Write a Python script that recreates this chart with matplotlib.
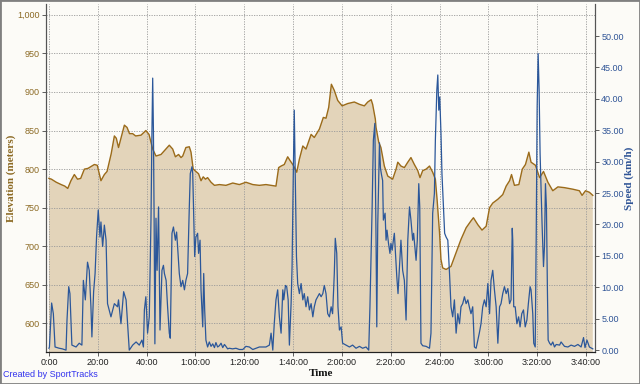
import matplotlib
matplotlib.use("Agg")
import matplotlib.pyplot as plt
from matplotlib.ticker import FuncFormatter, MultipleLocator
from matplotlib.patches import Rectangle

# elevation profile (time in minutes, metres)
elev_t = [0, 1, 3, 5, 6.5, 7.7, 9, 10.4, 11.7, 13, 14.5, 16, 18.6, 19.8, 21.3, 22.7, 23.8,
          25.5, 26.8, 27.6, 28.5, 29.5, 30.9, 32, 33, 34.3, 35.5, 37.7, 39.7, 41, 42.5,
          43.85, 45.9, 47.3, 49.3, 50.7, 51.8, 53.1, 54.1, 54.8, 56.1, 57.5, 58.2, 59.1,
          60.2, 61.3, 62.3, 63.2, 64.1, 65.0, 66.4, 67.8, 69.8, 72.5, 75.3, 78.0, 80.7,
          83.5, 86.2, 88.9, 93.0, 94.1, 95.1, 96.4, 97.8, 98.8, 100.1, 101.5, 102.6, 104.0,
          105.3, 107.4, 108.7, 110.8, 112.4, 113.5, 114.6, 115.7, 116.9, 118.3, 120.1,
          122.4, 125.1, 127.2, 129.2, 130.6, 132.0, 132.6, 133.7, 134.0, 135.1, 136.0,
          137.4, 138.8, 140.8, 142.2, 142.9, 144.2, 145.6, 147.0, 148.3, 149.7, 151.1,
          152.0, 153.1, 154.5, 155.9, 157.2, 158.3, 159.0, 160.0, 160.6, 161.3, 162.7,
          164.7, 166.8, 168.8, 170.9, 172.9, 173.9, 175.7, 177.4, 179.1, 180.5, 181.8,
          183.9, 185.9, 187.3, 188.7, 189.5, 190.7, 192.5, 193.9, 195.2, 196.6, 197.5,
          199.3, 201.0, 202.6, 204.4, 206.4, 208.5, 211.2, 214.6, 217.3, 218.4, 219.8,
          221.4, 222.8]
elev_v = [788, 787, 783, 780, 778, 775, 785, 793, 787, 788, 800, 801, 806, 805, 785, 793, 797,
          820, 843, 840, 828, 840, 857, 854, 846, 846, 843, 844, 850, 845, 826,
          817, 819, 824, 831, 826, 816, 819, 815, 817, 828, 829, 822, 800,
          797, 794, 785, 790, 787, 789, 783, 779, 780, 779, 782, 780, 783,
          780, 779, 780, 778, 802, 804, 806, 816, 811, 805, 796, 813, 830,
          826, 845, 841, 852, 867, 866, 880, 910, 902, 889, 882,
          885, 887, 884, 882, 887, 890, 884, 865, 854, 835, 828,
          804, 791, 787, 800, 809, 804, 802, 809, 815, 806, 798,
          789, 798, 800, 804, 796, 787, 761, 718, 683, 672, 670,
          674, 692, 709, 724, 733, 737, 728, 721, 726, 750, 756,
          761, 767, 778, 785, 793, 779, 780, 800, 806, 822, 809,
          805, 789, 797, 783, 772, 777, 776, 774, 772, 766, 772,
          770, 766]

# speed (time in minutes, km/h)
speed_t = [0, 0.2, 1.1, 1.8, 2.5, 4.2, 5.5, 7.0, 7.4, 8.1, 8.6, 9.4, 11.1, 12.4, 13.5, 14.1,
           14.9, 15.8, 16.5, 17.2, 17.6, 18.3, 18.9, 19.5, 20.2, 20.9, 21.3, 22.0, 22.7, 23.4,
           24.0, 25.4, 26.8, 28.1, 28.5, 29.5, 30.6, 31.6, 32.2, 32.9, 34.3, 35.7, 37.0, 38.1,
           38.7, 39.1, 39.7, 40.4, 41.1, 41.8, 42.2, 42.5, 42.8, 43.1, 43.4, 43.85, 44.3, 44.9,
           45.5, 46.3, 46.9, 47.3, 48.0, 48.6, 49.3, 49.7, 50.4, 51.0, 51.8, 52.3, 52.7, 53.4,
           54.1, 54.8, 55.5, 56.1, 56.8, 57.5, 57.9, 58.6, 58.9, 59.3, 59.7, 60.2, 60.9, 61.3,
           61.9, 62.3, 63.0, 63.4, 63.8, 64.3, 65.0, 65.7, 66.4, 67.1, 67.8, 68.4, 69.1, 69.8,
           70.5, 71.2, 71.9, 72.5, 73.2, 73.9, 75.2, 76.6, 78.0, 79.4, 80.7, 82.1, 83.5, 84.8,
           86.2, 87.6, 88.9, 90.3, 91.0, 91.7, 92.3, 93.0, 93.7, 94.4, 95.1, 95.8, 96.2, 96.9,
           97.4, 98.0, 98.5, 99.2, 99.6, 100.1, 100.5, 100.9, 101.4, 101.9, 102.6, 103.3, 104.0,
           104.6, 105.3, 106.0, 106.7, 107.4, 108.1, 108.7, 109.4, 110.1, 110.8, 111.5, 112.2,
           112.8, 113.5, 114.2, 114.9, 115.6, 116.2, 116.9, 117.3, 117.9, 118.4, 119.0, 119.7,
           120.3, 121.7, 123.1, 124.4, 125.8, 127.2, 128.5, 129.9, 131.0, 131.5, 132.4, 132.9,
           133.5, 134.0, 134.3, 134.7, 135.4, 135.8, 136.2, 136.7, 137.0, 137.7, 138.1, 138.5,
           139.1, 139.7, 140.1, 140.6, 141.1, 141.5, 141.9, 142.5, 143.0, 143.6, 144.2, 144.9,
           145.6, 146.3, 147.0, 147.7, 148.3, 149.0, 149.4, 150.0, 150.4, 150.9, 151.5, 151.9,
           152.4, 153.1, 154.5, 155.9, 156.5, 157.2, 157.9, 158.3, 158.9, 159.3, 159.7, 160.1,
           160.6, 161.0, 161.6, 162.1, 162.7, 163.4, 164.1, 164.7, 165.4, 166.1, 166.8, 167.5,
           168.2, 168.8, 169.5, 170.2, 170.9, 171.6, 172.2, 172.9, 173.6, 174.3, 175.0, 175.7,
           176.3, 177.0, 177.7, 178.4, 179.1, 179.8, 180.5, 181.1, 181.8, 182.5, 183.2, 183.9,
           184.6, 185.2, 185.9, 186.6, 187.3, 188.0, 188.7, 189.3, 189.8, 190.0, 190.4, 191.0,
           191.7, 192.4, 193.0, 193.7, 194.4, 195.1, 195.8, 196.4, 197.1, 197.5, 198.2, 198.6,
           199.2, 199.6, 200.0, 200.4, 200.8, 201.2, 201.6, 202.0, 202.6, 203.0, 203.4, 203.8,
           204.2, 204.5, 205.1, 205.7, 206.4, 207.1, 207.8, 209.2, 209.8, 211.2, 212.6, 213.9,
           215.3, 216.7, 218.0, 219.0, 219.6, 220.4, 221.4, 222.8]
speed_v = [0.3, 0.5, 7.5, 5.8, 0.5, 0.3, 0.2, 0, 4.8, 10.1, 9.0, 0.8, 0.5, 1.1, 0.8, 11.1,
           8.0, 14.0, 12.7, 6.9, 2.1, 9.3, 12.2, 18.0, 22.3, 18.0, 20.4, 16.5, 19.9, 17.5,
           7.4, 5.3, 7.4, 6.9, 8.0, 4.2, 9.3, 8.0, 4.2, 0, 0.8, 1.3, 0.8, 1.6,
           0.5, 6.4, 8.5, 2.7, 5.3, 20.7, 35.0, 43.3, 35.0, 20.0, 1.0, 21.0, 12.7, 22.8,
           3.2, 12.7, 13.5, 12.2, 11.1, 6.9, 2.7, 1.9, 18.6, 19.6, 17.5, 18.8, 16.5, 12.2,
           10.1, 11.1, 9.6, 11.1, 12.2, 22.8, 28.1, 29.2, 28.1, 21.8, 14.9, 18.0, 18.6, 15.4,
           17.5, 9.6, 3.7, 12.2, 6.4, 1.6, 0.5, 1.3, 0.6, 1.0, 0.4, 1.2, 0.5, 0.7,
           1.1, 0.4, 0.9, 0.6, 0.2, 0.3, 0.2, 0.3, 0.1, 0.1, 0.6, 0.5, 0.1, 0.3,
           0.5, 0.5, 0.5, 0.8, 2.7, 0, 4.2, 8.0, 9.6, 5.3, 2.7, 9.6, 8.0, 10.3,
           10.1, 8.0, 0.8, 7.4, 13.3, 28.1, 38.2, 28.1, 14.9, 10.6, 9.0, 10.6, 8.0,
           9.0, 6.9, 8.5, 6.4, 7.4, 5.3, 6.9, 8.0, 8.5, 9.0, 8.5, 9.0,
           10.3, 9.0, 5.8, 5.3, 6.9, 5.8, 12.2, 17.8, 15.4, 6.9, 3.2, 3.7,
           1.1, 0.8, 0.5, 0.8, 0.3, 0.6, 0.3, 0.5, 0, 6.9, 22.8, 33.4,
           36.1, 17.5, 3.7, 20.0, 33.0, 29.0, 28.0, 27.0, 20.7, 21.8, 17.5, 19.1,
           17.0, 15.4, 17.0, 15.9, 17.5, 18.6, 15.9, 11.7, 9.0, 13.3, 17.5, 12.7,
           11.1, 4.8, 17.5, 22.8, 20.7, 17.5, 18.6, 15.9, 14.3, 17.5, 26.5, 22.8,
           1.1, 0.7, 0.6, 0.3, 2.7, 21.8, 24.9, 33.4, 41.4, 43.8, 38.2, 40.3,
           34.5, 28.1, 22.8, 18.6, 18.0, 17.5, 12.2, 6.9, 5.3, 8.0, 2.7, 5.8,
           4.2, 6.9, 7.4, 8.5, 7.4, 8.0, 6.9, 5.8, 6.9, 0.5, 0.3, 1.6,
           2.7, 4.2, 6.9, 8.0, 6.9, 10.6, 5.8, 11.1, 12.7, 9.6, 6.9, 1.1,
           6.9, 7.4, 9.0, 10.1, 9.0, 9.8, 7.4, 8.0, 19.4, 17.5, 6.9, 6.9,
           4.2, 5.3, 3.7, 5.8, 6.4, 3.7, 4.8, 7.4, 10.1, 9.6, 5.8, 1.1,
           0.5, 17.5, 38.7, 47.2, 41.4, 31.3, 25.5, 20.2, 13.3, 16.5, 26.5, 22.8,
           9.6, 1.6, 1.1, 0.8, 1.3, 0.5, 0.9, 0.8, 1.3, 0.6, 0.5, 0.8,
           0.6, 0.9, 0.5, 2.0, 0.4, 1.6, 0.5, 0.2]

elev_ticks = [600, 650, 700, 750, 800, 850, 900, 950, 1000]
speed_ticks = [0, 5, 10, 15, 20, 25, 30, 35, 40, 45, 50]


def time_label(v, pos):
    m = int(round(v))
    if m < 60:
        return "%d:00" % m
    return "%d:%02d:00" % (m // 60, m % 60)


bg = "#fcfbf7"
brown = "#9b6b1a"
blue = "#2b579a"

fig = plt.figure(figsize=(6.4, 3.84), dpi=100, facecolor=bg)
ax = fig.add_axes([0.0719, 0.0833, 0.8578, 0.9063], facecolor=bg)
ax2 = ax.twinx()

ax.fill_between(elev_t, elev_v, 0, color="#e3d4ba", lw=0, zorder=1)
ax.plot(elev_t, elev_v, color=brown, lw=1.0, zorder=3)
ax2.plot(speed_t, speed_v, color=blue, lw=0.9)

ax.set_xlim(-1.2, 223.7)
ax.set_ylim(563, 1014)
ax2.set_ylim(-0.3, 55.1)

ax.xaxis.set_major_locator(MultipleLocator(20))
ax.xaxis.set_major_formatter(FuncFormatter(time_label))
ax.set_yticks(elev_ticks)
ax.yaxis.set_major_formatter(FuncFormatter(lambda v, p: "{:,}".format(int(v))))
ax2.set_yticks(speed_ticks)
ax2.yaxis.set_major_formatter(FuncFormatter(lambda v, p: "%.2f" % v))

ax.set_axisbelow(False)
ax.grid(True, color="#999999", linestyle=(0, (1.5, 1.5)), lw=0.6, zorder=2)

tick_font = dict(family="Liberation Sans", size=6.5)
for lab in ax.get_xticklabels():
    lab.set_fontproperties(tick_font)
    lab.set_color("#222222")
for lab in ax.get_yticklabels():
    lab.set_fontproperties(tick_font)
    lab.set_color("#8c6a24")
for lab in ax2.get_yticklabels():
    lab.set_fontproperties(tick_font)
    lab.set_color("#2f5496")

ax.tick_params(axis="both", length=3, width=0.6, pad=1.5, colors="#444444")
ax.tick_params(axis="y", labelcolor="#8c6a24")
ax.tick_params(axis="x", labelcolor="#222222")
ax2.tick_params(axis="y", length=3, width=0.6, pad=1.5, colors="#444444", labelcolor="#2f5496")

for a in (ax, ax2):
    a.spines["top"].set_visible(False)
    a.spines["left"].set_color("#555555")
    a.spines["right"].set_color("#555555")
    a.spines["bottom"].set_color("#222222")

lab_font = dict(family="Liberation Serif", size=8, weight="bold")
ax.set_ylabel("Elevation (meters)", color="#8c6a24", labelpad=1, fontdict=lab_font)
ax2.set_ylabel("Speed (km/h)", color="#2f5496", rotation=90, labelpad=0.5, fontdict=lab_font)
ax.set_xlabel("Time", color="#111111", labelpad=1, fontdict=lab_font)

fig.text(0.005, 0.018, "Created by SportTracks", color="#3333ee",
         fontsize=6.5, family="Liberation Sans")
fig.patches.append(Rectangle((0, 0), 1, 1, transform=fig.transFigure, fill=False,
                             edgecolor="#808080", lw=2))

fig.savefig("out.png", dpi=100, facecolor=bg)
